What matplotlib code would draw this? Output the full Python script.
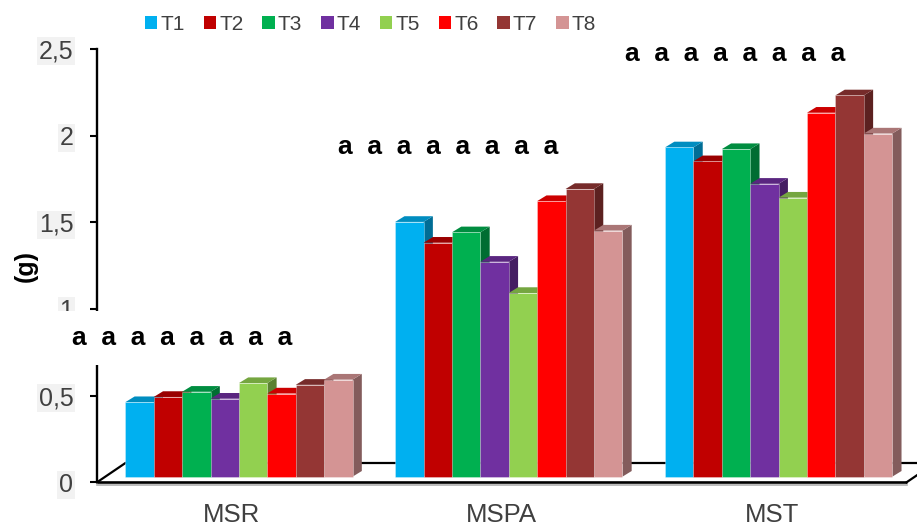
import matplotlib
matplotlib.use("Agg")
import matplotlib.pyplot as plt
import numpy as np
from matplotlib.patches import Polygon, Patch
from matplotlib.transforms import ScaledTranslation
from matplotlib.ticker import FixedLocator, FixedFormatter

plt.rcParams['font.family'] = ['Liberation Sans', 'DejaVu Sans']

# ---- data -------------------------------------------------------------
categories = ['MSR', 'MSPA', 'MST']
treatments = ['T1', 'T2', 'T3', 'T4', 'T5', 'T6', 'T7', 'T8']

msr = [0.43, 0.46, 0.49, 0.45, 0.54, 0.48, 0.53, 0.56]
mspa = [1.47, 1.35, 1.41, 1.24, 1.06, 1.59, 1.66, 1.42]
mst = [1.90, 1.82, 1.89, 1.69, 1.61, 2.10, 2.20, 1.98]

letters_msr = ['a', 'a', 'a', 'a', 'a', 'a', 'a', 'a']
letters_mspa = ['a', 'a', 'a', 'a', 'a', 'a', 'a', 'a']
letters_mst = ['a', 'a', 'a', 'a', 'a', 'a', 'a', 'a']

y_ticks = [0, 0.5, 1, 1.5, 2, 2.5]
y_tick_labels = ['0', '0,5', '1', '1,5', '2', '2,5']

# ---- style ------------------------------------------------------------
colors = ['#00B0F0', '#C00000', '#00B050', '#7030A0',
          '#92D050', '#FF0000', '#943634', '#D49494']
text_gray = '#404040'


def shade(hex_color, k):
    rgb = np.array(matplotlib.colors.to_rgb(hex_color))
    return tuple(rgb * k)


W, H = 917, 527
fig = plt.figure(figsize=(W / 100, H / 100), dpi=100)
ax_left, ax_right, ax_top, ax_bottom = 97, 917, 49, 482.3
ax = fig.add_axes([ax_left / W, (H - ax_bottom) / H,
                   (ax_right - ax_left) / W, (ax_bottom - ax_top) / H])

group_px = 269.85
ax.set_xlim(-0.5, -0.5 + (ax_right - ax_left) / group_px)
ax.set_ylim(0, 2.5)

px_x = ax.bbox.width / (ax.get_xlim()[1] - ax.get_xlim()[0])
px_y = ax.bbox.height / (ax.get_ylim()[1] - ax.get_ylim()[0])

# columns sit a little inside the floor
bar_shift = ax.transData + ScaledTranslation(7 / 100, 5.6 / 100, fig.dpi_scale_trans)

series = [msr, mspa, mst]
n = len(treatments)
bw = 28.4 / group_px
depth_x = 9.3 / px_x
depth_y = 5.7 / px_y

# floor of the chart box
fdx, fdy = 28 / px_x, 19 / px_y
x0f, x1f = -0.5, 2.5
ax.plot([x0f + fdx, 2.62], [fdy, fdy], color='black', lw=1.6,
        clip_on=False, zorder=1, solid_capstyle='butt')
ax.plot([x0f, x0f + fdx], [0, fdy], color='black', lw=1.6, clip_on=False, zorder=1)
ax.plot([x1f, x1f + fdx], [0, fdy], color='black', lw=1.6, clip_on=False, zorder=1)
ax.plot([x0f, x1f], [0, 0], color='#b0b0b0', lw=1.2, clip_on=False, zorder=1,
        transform=ax.transData + ScaledTranslation(0, -2.2 / 100, fig.dpi_scale_trans))
ax.plot([x0f, x1f], [0, 0], color='black', lw=1.9, clip_on=False, zorder=4,
        solid_capstyle='butt')

for g, vals in enumerate(series):
    for i, v in enumerate(vals):
        xc = g + (i - (n - 1) / 2) * bw
        c = colors[i]
        z = 2 + i * 0.01
        rect = ax.bar(xc, v, width=bw, color=c, transform=bar_shift,
                      edgecolor=(1, 1, 1, 0.35), linewidth=0.6, zorder=z + 0.005)[0]
        xl = rect.get_x()
        xr = xl + rect.get_width()
        top = rect.get_height()
        side = Polygon([(xr, 0), (xr, top), (xr + depth_x, top + depth_y),
                        (xr + depth_x, depth_y)], closed=True,
                       facecolor=shade(c, 0.62), edgecolor='none',
                       transform=bar_shift, zorder=z)
        cap = Polygon([(xl, top), (xr, top), (xr + depth_x, top + depth_y),
                       (xl + depth_x, top + depth_y)], closed=True,
                      facecolor=shade(c, 0.8), edgecolor='none',
                      transform=bar_shift, zorder=z)
        ax.add_patch(side)
        ax.add_patch(cap)

# axes dressing
for s in ['top', 'right', 'bottom']:
    ax.spines[s].set_visible(False)
ax.spines['left'].set_linewidth(1.7)
ax.spines['left'].set_color('black')
ax.yaxis.set_major_locator(FixedLocator(y_ticks))
ax.yaxis.set_major_formatter(FixedFormatter(y_tick_labels))
ax.tick_params(axis='y', direction='out', length=5, width=1.5, color='black',
               pad=12, labelsize=18, labelcolor=text_gray)
for lbl in ax.get_yticklabels():
    lbl.set_bbox(dict(facecolor='#f2f2f2', edgecolor='none', pad=1.5))
ax.set_xticks(range(len(categories)))
ax.set_xticklabels(categories)
ax.tick_params(axis='x', length=0, pad=15, labelsize=18.5, labelcolor=text_gray)

# significance letters
letter_rows = [letters_msr, letters_mspa, letters_mst]
letter_anchor = [(-0.594, 0.792), (0.394, 1.893), (1.456, 2.433)]
for row, (lx, ly) in zip(letter_rows, letter_anchor):
    ax.text(lx, ly, '  '.join(row), ha='left', va='baseline', fontsize=19,
            fontweight='bold', color='black', zorder=10, clip_on=False,
            bbox=dict(facecolor='white', edgecolor='none', pad=11))

fig.text(25.5 / W, 1 - 266 / H, '(g)', rotation=90, fontsize=18,
         fontweight='bold', ha='center', va='center')

handles = [Patch(facecolor=c, edgecolor='none') for c in colors]
fig.legend(handles, treatments, loc='center', bbox_to_anchor=(370.5 / W, 1 - 24.5 / H),
           ncol=n, frameon=False, fontsize=15, handlelength=0.6, handleheight=0.6,
           handletextpad=0.15, columnspacing=0.9, labelcolor=text_gray,
           borderpad=0, borderaxespad=0)

fig.savefig('out.png', dpi=100)
